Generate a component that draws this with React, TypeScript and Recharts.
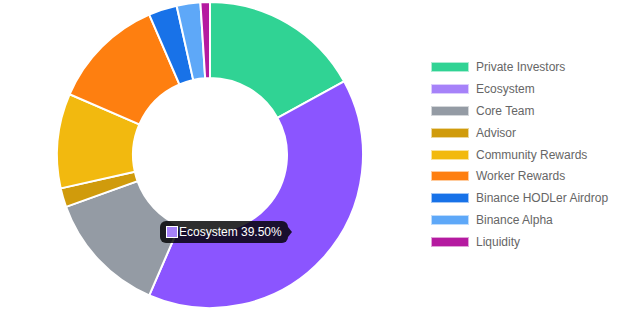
import React from 'react';
import { PieChart, Pie, Cell, Tooltip, Legend } from 'recharts';

const categories = [
  'Private Investors',
  'Ecosystem',
  'Core Team',
  'Advisor',
  'Community Rewards',
  'Worker Rewards',
  'Binance HODLer Airdrop',
  'Binance Alpha',
  'Liquidity',
];
const shares = [17, 39.5, 13, 2, 10, 12, 3, 2.5, 1];
const colors = ['#30d394', '#a682f9', '#949ba4', '#d09b0c', '#f2b90f', '#fe7f10', '#1872e8', '#5ea8f8', '#b51aa0'];
const hoverColors = ['#22b87e', '#8b55ff', '#7d848d', '#b5860a', '#d9a40b', '#e86f08', '#105fcc', '#4a94e6', '#9c128a'];
const activeIndex = 1;

const data = categories.map((name, i) => ({ name, value: shares[i] }));

const font = 'Arial, "Liberation Sans", Helvetica, sans-serif';

const LegendList = () => (
  <div style={{ fontFamily: font, fontSize: 12, color: '#666' }}>
    {categories.map((name, i) => (
      <div key={name} style={{ display: 'flex', alignItems: 'center', height: 21.9 }}>
        <div
          style={{
            width: 38,
            height: 10,
            background: colors[i],
            border: '1px solid rgba(255,255,255,0.6)',
            marginRight: 7,
            boxSizing: 'border-box',
          }}
        />
        <span style={{ whiteSpace: 'nowrap' }}>{name}</span>
      </div>
    ))}
  </div>
);

const TooltipBox = ({ active, payload }: any) => {
  if (!active || !payload || !payload.length) return null;
  const p = payload[0];
  const idx = categories.indexOf(p.name);
  return (
    <div
      style={{
        position: 'relative',
        background: 'rgba(0,0,0,0.82)',
        borderRadius: 6,
        padding: '5px 6px',
        display: 'flex',
        alignItems: 'center',
        fontFamily: font,
        fontSize: 12,
        color: '#fff',
        whiteSpace: 'nowrap',
        height: 12,
      }}
    >
      <div
        style={{
          width: 10,
          height: 10,
          background: colors[idx],
          border: '1px solid #fff',
          marginRight: 1,
        }}
      />
      <span>{`${p.name} ${Number(p.value).toFixed(2)}%`}</span>
      <div
        style={{
          position: 'absolute',
          right: -4,
          top: 6,
          width: 0,
          height: 0,
          borderTop: '5px solid transparent',
          borderBottom: '5px solid transparent',
          borderLeft: '4px solid rgba(0,0,0,0.82)',
        }}
      />
    </div>
  );
};

export default function App() {
  return (
    <div style={{ position: 'absolute', left: 0, top: 0, width: 619, height: 309, background: '#fff' }}>
      <PieChart width={619} height={309} margin={{ top: 0, right: 0, bottom: 0, left: 0 }}>
        <Pie
          data={data}
          dataKey="value"
          nameKey="name"
          cx={210}
          cy={155}
          innerRadius={77}
          outerRadius={153}
          startAngle={90}
          endAngle={-270}
          stroke="#fff"
          strokeWidth={2}
          isAnimationActive={false}
        >
          {data.map((d, i) => (
            <Cell key={d.name} fill={i === activeIndex ? hoverColors[i] : colors[i]} />
          ))}
        </Pie>
        <Legend
          layout="vertical"
          align="right"
          verticalAlign="top"
          content={() => <LegendList />}
          wrapperStyle={{ left: 431, top: 56, width: 188 }}
        />
        <Tooltip
          defaultIndex={activeIndex}
          content={<TooltipBox />}
          position={{ x: 160, y: 221 }}
          isAnimationActive={false}
          wrapperStyle={{ outline: 'none' }}
        />
      </PieChart>
    </div>
  );
}
